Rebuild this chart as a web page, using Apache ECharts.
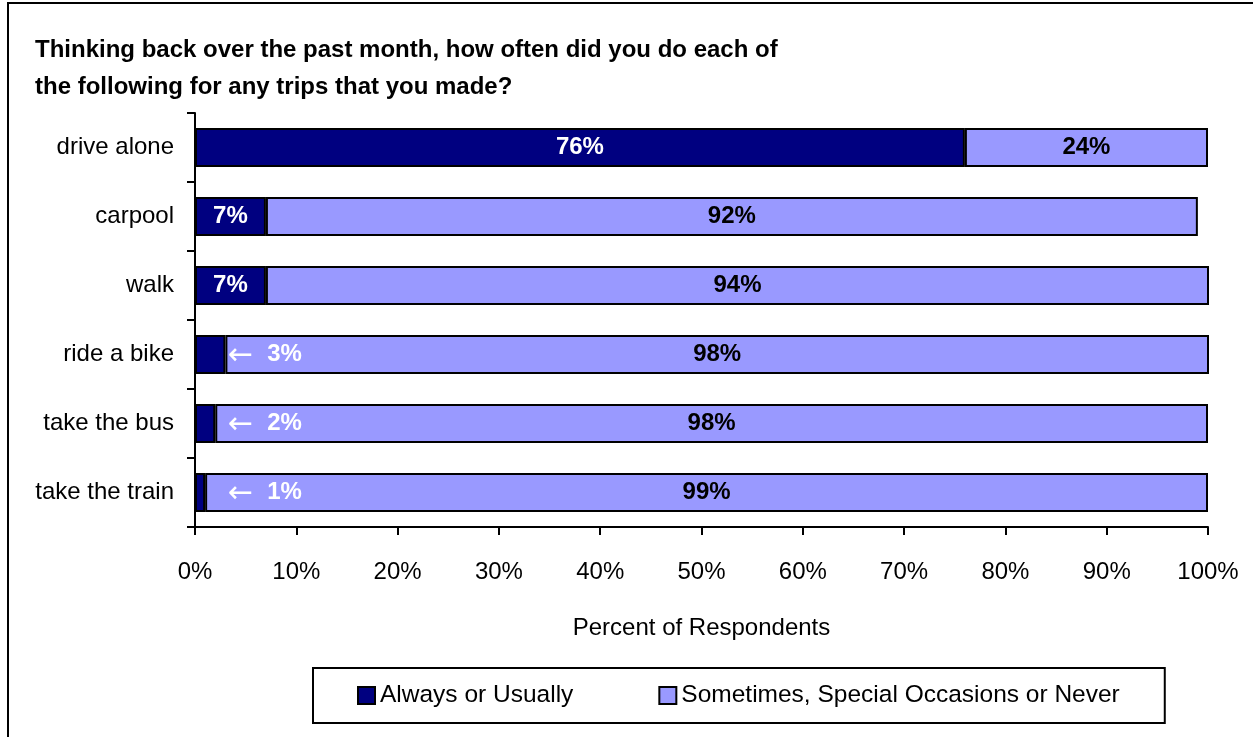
<!DOCTYPE html>
<html>
<head>
<meta charset="utf-8">
<script src="https://cdn.jsdelivr.net/npm/echarts@6/dist/echarts.min.js"></script>
<style>
html,body{margin:0;padding:0;background:#fff;}
#chart{width:1253px;height:737px;}
</style>
</head>
<body>
<div id="chart"></div>
<script>
const titleLines = ['Thinking back over the past month, how often did you do each of', 'the following for any trips that you made?'];
const categories = ['drive alone', 'carpool', 'walk', 'ride a bike', 'take the bus', 'take the train'];
const alwaysValues = [76, 7, 7, 3, 2, 1];
const sometimesValues = [24, 92, 94, 98, 98, 99];
const seriesNames = ['Always or Usually', 'Sometimes, Special Occasions or Never'];
const xTicks = [0, 10, 20, 30, 40, 50, 60, 70, 80, 90, 100];
const xAxisName = 'Percent of Respondents';

const FONT = 'Liberation Sans, Arial, sans-serif';

const alwaysData = alwaysValues.map(v => {
  if (v < 5) {
    return {
      value: v,
      label: {
        position: 'insideLeft',
        distance: 33,
        formatter: '{arr|\u2190}{txt|' + v + '%}',
        rich: {
          arr: {fontFamily: 'DejaVu Sans', fontSize: 30, color: '#fff', fontWeight: 'normal', padding: [3, 14, 0, 0]},
          txt: {fontFamily: FONT, fontSize: 24, color: '#fff', fontWeight: 'bold'}
        }
      }
    };
  }
  return v;
});

const chart = echarts.init(document.getElementById('chart'), null, {renderer: 'canvas'});
chart.setOption({
  backgroundColor: '#ffffff',
  animation: false,
  title: {
    text: titleLines.join('\n'),
    left: 35,
    top: 32,
    padding: 0,
    textStyle: {
      fontFamily: FONT,
      fontSize: 24,
      fontWeight: 'bold',
      color: '#000',
      lineHeight: 37
    }
  },
  graphic: [{
    type: 'rect',
    shape: {x: 8, y: 3, width: 1400, height: 900},
    style: {fill: 'none', stroke: '#000', lineWidth: 2},
    silent: true,
    z: -1
  }],
  legend: {
    left: 313,
    top: 668,
    padding: [15, 45, 15, 44],
    borderColor: '#000',
    borderWidth: 2,
    itemWidth: 17,
    itemHeight: 17,
    itemGap: 85,
    icon: 'rect',
    textStyle: {fontFamily: FONT, fontSize: 24.5, color: '#000'},
    data: seriesNames
  },
  grid: {left: 195, right: 45, top: 113, bottom: 210, containLabel: false},
  xAxis: {
    type: 'value',
    min: xTicks[0],
    max: xTicks[xTicks.length - 1],
    interval: xTicks[1] - xTicks[0],
    name: xAxisName,
    nameLocation: 'middle',
    nameGap: 89,
    nameTextStyle: {fontFamily: FONT, fontSize: 24, color: '#000'},
    axisLine: {show: true, lineStyle: {color: '#000', width: 2}},
    axisTick: {show: true, length: 8, lineStyle: {color: '#000', width: 2}},
    splitLine: {show: false},
    axisLabel: {
      fontFamily: FONT, fontSize: 24, color: '#000', margin: 33,
      formatter: v => v + '%'
    }
  },
  yAxis: {
    type: 'category',
    inverse: true,
    data: categories,
    axisLine: {show: true, lineStyle: {color: '#000', width: 2}},
    axisTick: {show: true, length: 8, lineStyle: {color: '#000', width: 2}},
    axisLabel: {fontFamily: FONT, fontSize: 24, color: '#000', margin: 21}
  },
  series: [
    {
      name: seriesNames[0],
      type: 'bar',
      stack: 'total',
      barWidth: 39,
      data: alwaysData,
      itemStyle: {color: '#000080', borderColor: '#000', borderWidth: 2},
      label: {
        show: true,
        position: 'inside',
        color: '#fff',
        fontFamily: FONT,
        fontSize: 24,
        fontWeight: 'bold',
        formatter: '{c}%'
      }
    },
    {
      name: seriesNames[1],
      type: 'bar',
      stack: 'total',
      barWidth: 39,
      data: sometimesValues,
      itemStyle: {color: '#9999FF', borderColor: '#000', borderWidth: 2},
      label: {
        show: true,
        position: 'inside',
        color: '#000',
        fontFamily: FONT,
        fontSize: 24,
        fontWeight: 'bold',
        formatter: '{c}%'
      }
    }
  ]
});
</script>
</body>
</html>
